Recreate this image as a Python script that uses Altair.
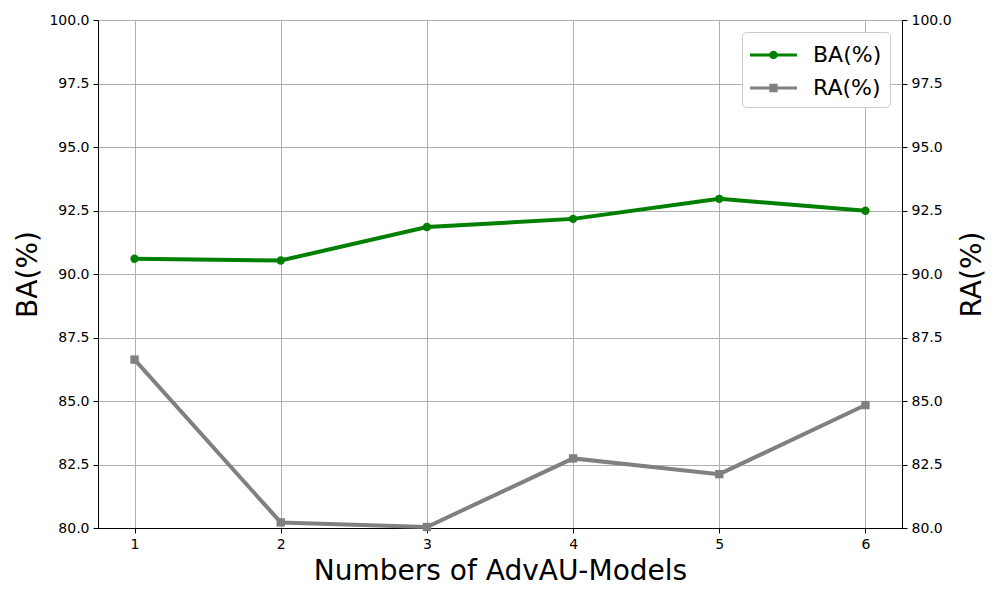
import altair as alt
import pandas as pd

models = [1, 2, 3, 4, 5, 6]
ba_values = [90.60, 90.53, 91.85, 92.17, 92.96, 92.49]
ra_values = [86.63, 80.22, 80.04, 82.74, 82.12, 84.84]
series_names = ["BA(%)", "RA(%)"]
series_colors = ["#008000", "#808080"]
y_ticks = [80.0, 82.5, 85.0, 87.5, 90.0, 92.5, 95.0, 97.5, 100.0]

df = pd.DataFrame({"n": models, "BA": ba_values, "RA": ra_values})
legend_df = pd.DataFrame({"s": series_names})

FONT = "DejaVu Sans"

x_enc = alt.X(
    "n:Q",
    scale=alt.Scale(domain=[0.75, 6.25], nice=False, zero=False),
    axis=alt.Axis(
        values=models, format="d", title="Numbers of AdvAU-Models",
        titleFontSize=28, titleFontWeight="normal", titlePadding=6,
        labelFontSize=14, grid=True,
    ),
)

y_scale = alt.Scale(domain=[80, 100], nice=False, zero=False)

base = alt.Chart(df)

ba_line = base.mark_line(color=series_colors[0], strokeWidth=4).encode(
    x=x_enc,
    y=alt.Y("BA:Q", scale=y_scale, axis=alt.Axis(
        values=y_ticks, format=".1f", title="BA(%)", titleFontSize=28,
        titleFontWeight="normal", labelFontSize=14, grid=True, titlePadding=6,
    )),
)
ba_pts = base.mark_point(color=series_colors[0], filled=True, opacity=1, size=70, shape="circle").encode(
    x=x_enc, y=alt.Y("BA:Q", scale=y_scale)
)

ra_line = base.mark_line(color=series_colors[1], strokeWidth=4).encode(
    x=x_enc,
    y=alt.Y("RA:Q", scale=y_scale, axis=alt.Axis(
        orient="right", values=y_ticks, format=".1f", title="RA(%)", titleFontSize=28,
        titleFontWeight="normal", labelFontSize=14, grid=False,
        titleAngle=270, titleX=70, titleY=254, titleAlign="center", titleBaseline="middle",
    )),
)
ra_pts = base.mark_point(color=series_colors[1], filled=True, opacity=1, size=70, shape="square").encode(
    x=x_enc, y=alt.Y("RA:Q", scale=y_scale)
)

# legend symbols: line + marker (unit = 15px)
path_ba = ("M-1,-0.1L2.13,-0.1L2.13,0.1L-1,0.1Z"
           "M0.845,0A0.28,0.28 0 1,1 0.285,0A0.28,0.28 0 1,1 0.845,0Z")
path_ra = ("M-1,-0.1L2.13,-0.1L2.13,0.1L-1,0.1Z"
           "M0.285,-0.28L0.845,-0.28L0.845,0.28L0.285,0.28Z")

leg = alt.Legend(title=None, orient="top-right", offset=12,
                 labelFontSize=22, symbolSize=900, labelOffset=33,
                 padding=8, rowPadding=7,
                 strokeColor="#cccccc", fillColor="white",
                 cornerRadius=4, symbolOpacity=1, symbolStrokeWidth=0)

legend_layer = alt.Chart(legend_df).mark_point(
    filled=True, opacity=0, size=900
).encode(
    color=alt.Color("s:N", scale=alt.Scale(domain=series_names, range=series_colors), legend=leg),
    shape=alt.Shape("s:N", scale=alt.Scale(domain=series_names, range=[path_ba, path_ra]), legend=leg),
)

left = alt.layer(ba_line, ba_pts)
right = alt.layer(ra_line, ra_pts)

chart = alt.layer(left, right, legend_layer).resolve_scale(y="independent").properties(
    width=804, height=508,
    autosize=alt.AutoSizeParams(type="none"),
    padding={"left": 90, "top": 12, "right": 90, "bottom": 64},
).configure_view(stroke="black", strokeWidth=1).configure_axis(
    labelFont=FONT, titleFont=FONT, labelColor="black", titleColor="black",
    tickColor="black", domainColor="black", tickSize=5, labelPadding=4,
    gridColor="#b0b0b0", gridWidth=1,
).configure_legend(labelFont=FONT, labelColor="black")

chart.save("out.html", embed_options={"renderer": "svg", "actions": False})
